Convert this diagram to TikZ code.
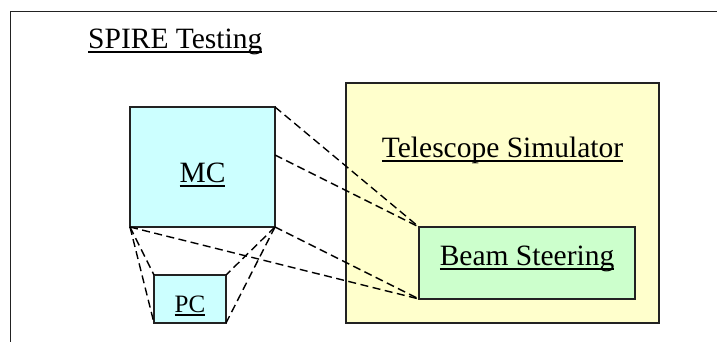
\documentclass[tikz,border=0pt]{standalone}
\usepackage{fontspec}
\setmainfont{Liberation Serif}
\definecolor{mcfill}{HTML}{CCFFFF}
\definecolor{tsfill}{HTML}{FFFFCC}
\definecolor{bsfill}{HTML}{CCFFCC}
\definecolor{edge}{HTML}{222222}
\newcommand\ultext[1]{\sbox0{#1}\rlap{\rule[-0.16em]{\wd0}{0.065em}}\usebox0}
\tikzset{
  boxnode/.style={draw=edge, line width=1.4pt, inner sep=0pt, outer sep=0pt},
  lbl/.style={inner sep=0pt, anchor=base, font=\fontsize{29.5pt}{34pt}\selectfont},
  link/.style={draw=black, line width=1.4pt, dash pattern=on 8pt off 4.5pt},
}
\begin{document}
\begin{tikzpicture}[x=1pt,y=-1pt]
\useasboundingbox (0,0) rectangle (717,341);
\clip (0,0) rectangle (717,341);
\draw[draw=edge, line width=1.4pt] (10.5,11.5) rectangle (740,360);
\node[lbl, anchor=base west] (spire) at (88,48) {\ultext{SPIRE Testing}};
\node[boxnode, fill=tsfill, minimum width=313pt, minimum height=240pt] (ts) at (502.5,203) {};
\node[lbl] (tslbl) at (502.5,157) {\ultext{Telescope Simulator}};
\node[boxnode, fill=bsfill, minimum width=216pt, minimum height=72pt] (bs) at (527,263) {};
\node[lbl] (bslbl) at (527,265) {\ultext{Beam Steering}};
\node[boxnode, fill=mcfill, minimum width=145pt, minimum height=120pt] (mc) at (202.5,167) {};
\node[lbl] (mclbl) at (202.5,182) {\ultext{MC}};
\node[boxnode, fill=mcfill, minimum width=72pt, minimum height=48pt] (pc) at (190,299) {};
\node[lbl, font=\fontsize{25pt}{30pt}\selectfont] (pclbl) at (190,312) {\ultext{PC}};
\draw[link] (mc.north east) -- (bs.north west);
\draw[link] ([yshift=12pt]mc.east) -- (bs.north west);
\draw[link] (mc.south east) -- (bs.south west);
\draw[link] (mc.south west) -- (bs.south west);
\draw[link] (mc.south west) -- (pc.north west);
\draw[link] (mc.south west) -- (pc.south west);
\draw[link] (mc.south east) -- (pc.north east);
\draw[link] (mc.south east) -- (pc.south east);
\end{tikzpicture}
\end{document}
